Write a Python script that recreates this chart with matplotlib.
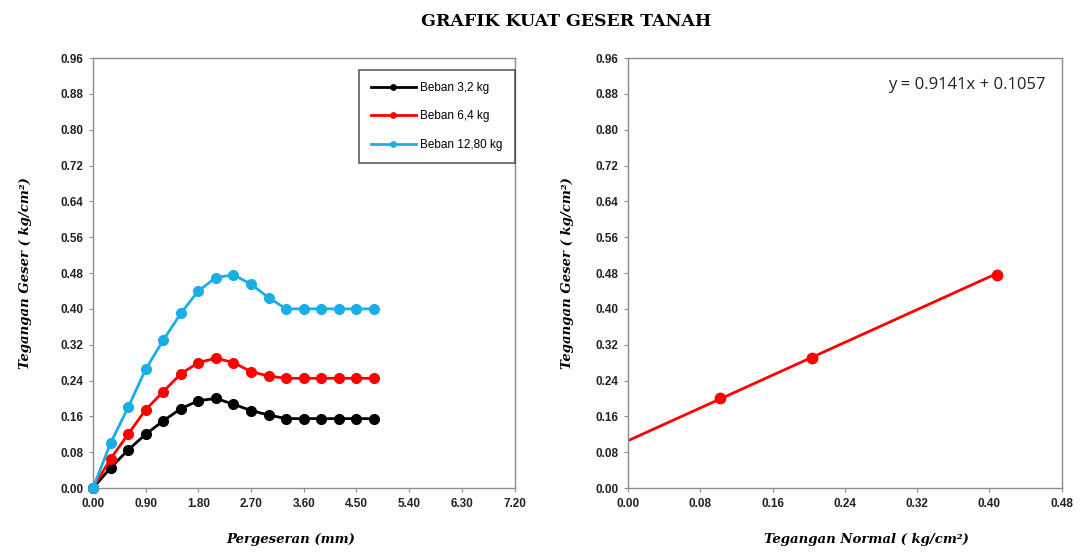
import matplotlib.pyplot as plt
import numpy as np

# shear displacement readings (mm)
pergeseran = [0.0, 0.3, 0.6, 0.9, 1.2, 1.5, 1.8, 2.1, 2.4, 2.7, 3.0, 3.3, 3.6, 3.9, 4.2, 4.5, 4.8]

# shear stress per load (kg/cm2)
beban_3_2 = [0.0, 0.045, 0.085, 0.12, 0.15, 0.177, 0.195, 0.20, 0.187, 0.173, 0.163, 0.155,
             0.155, 0.155, 0.155, 0.155, 0.155]
beban_6_4 = [0.0, 0.065, 0.12, 0.175, 0.215, 0.255, 0.28, 0.29, 0.28, 0.26, 0.25, 0.245,
             0.245, 0.245, 0.245, 0.245, 0.245]
beban_12_8 = [0.0, 0.10, 0.18, 0.265, 0.33, 0.39, 0.44, 0.47, 0.476, 0.455, 0.425, 0.40,
              0.40, 0.40, 0.40, 0.40, 0.40]
seri_label = ["Beban 3,2 kg", "Beban 6,4 kg", "Beban 12,80 kg"]
seri_warna = ["black", "#ff0000", "#1aaee6"]

# normal stress vs peak shear stress
tegangan_normal = [0.102, 0.204, 0.408]
tegangan_geser = [0.20, 0.29, 0.476]
slope, intercept = 0.9141, 0.1057

left_xticks = np.arange(0, 7.21, 0.9)
right_xticks = np.arange(0, 0.481, 0.08)
yticks = np.arange(0, 0.961, 0.08)

fig = plt.figure(figsize=(10.81, 5.53), dpi=100)
ax1 = fig.add_axes([0.086, 0.1175, 0.390, 0.7775])
ax2 = fig.add_axes([0.581, 0.1175, 0.401, 0.7775])

fig.text(0.524, 0.962, "GRAFIK KUAT GESER TANAH", ha="center", va="center",
         fontsize=12.5, fontweight="bold", family="DejaVu Serif")

label_font = dict(family="DejaVu Serif", style="italic", fontweight="bold", fontsize=9.5)


def style_axes(ax, xticks, fmt):
    ax.set_ylim(0, 0.96)
    ax.set_yticks(yticks)
    ax.set_yticklabels(["%.2f" % v for v in yticks])
    ax.set_xlim(xticks[0], xticks[-1])
    ax.set_xticks(xticks)
    ax.set_xticklabels([fmt % v for v in xticks])
    for s in ax.spines.values():
        s.set_color("#8c8c8c")
        s.set_linewidth(1.0)
    ax.tick_params(direction="out", length=3, color="#8c8c8c", pad=4)
    for lbl in ax.get_xticklabels() + ax.get_yticklabels():
        lbl.set_family("Liberation Sans")
        lbl.set_fontweight("bold")
        lbl.set_fontsize(8.5)
        lbl.set_color("#222222")


series = [beban_3_2, beban_6_4, beban_12_8]
for vals, lab, col in zip(series, seri_label, seri_warna):
    ax1.plot(pergeseran, vals, color=col, lw=2, marker="o", ms=7, label=lab,
             clip_on=False, zorder=3)
style_axes(ax1, left_xticks, "%.2f")
ax1.set_xlabel("Pergeseran (mm)", **label_font)
ax1.xaxis.set_label_coords(0.47, -0.105)
ax1.set_ylabel("Tegangan Geser ( kg/cm²)", **label_font)
ax1.yaxis.set_label_coords(-0.145, 0.5)

leg = ax1.legend(loc="upper right", bbox_to_anchor=(1.0, 0.972), numpoints=1,
                 markerscale=0.55, prop={"family": "Liberation Sans", "size": 8.5},
                 frameon=True, fancybox=False, borderpad=1.0, labelspacing=1.4,
                 handlelength=3.8, handletextpad=0.4, borderaxespad=0)
leg.get_frame().set_edgecolor("#333333")
leg.get_frame().set_linewidth(1.2)

# trend line from zero to the last point
xfit = np.array([0.0, tegangan_normal[-1]])
ax2.plot(xfit, slope * xfit + intercept, color="#ff0000", lw=2, zorder=2)
ax2.plot(tegangan_normal, tegangan_geser, "o", color="#ff0000", ms=7.5, zorder=3)
style_axes(ax2, right_xticks, "%.2f")
ax2.set_xlabel("Tegangan Normal ( kg/cm²)", **label_font)
ax2.xaxis.set_label_coords(0.55, -0.105)
ax2.set_ylabel("Tegangan Geser ( kg/cm²)", **label_font)
ax2.yaxis.set_label_coords(-0.125, 0.5)
ax2.text(0.375, 0.90, "y = %.4fx + %.4f" % (slope, intercept), ha="center", va="center",
         fontsize=12, family="Open Sans", color="#222222")

fig.savefig("out.png", dpi=100)
